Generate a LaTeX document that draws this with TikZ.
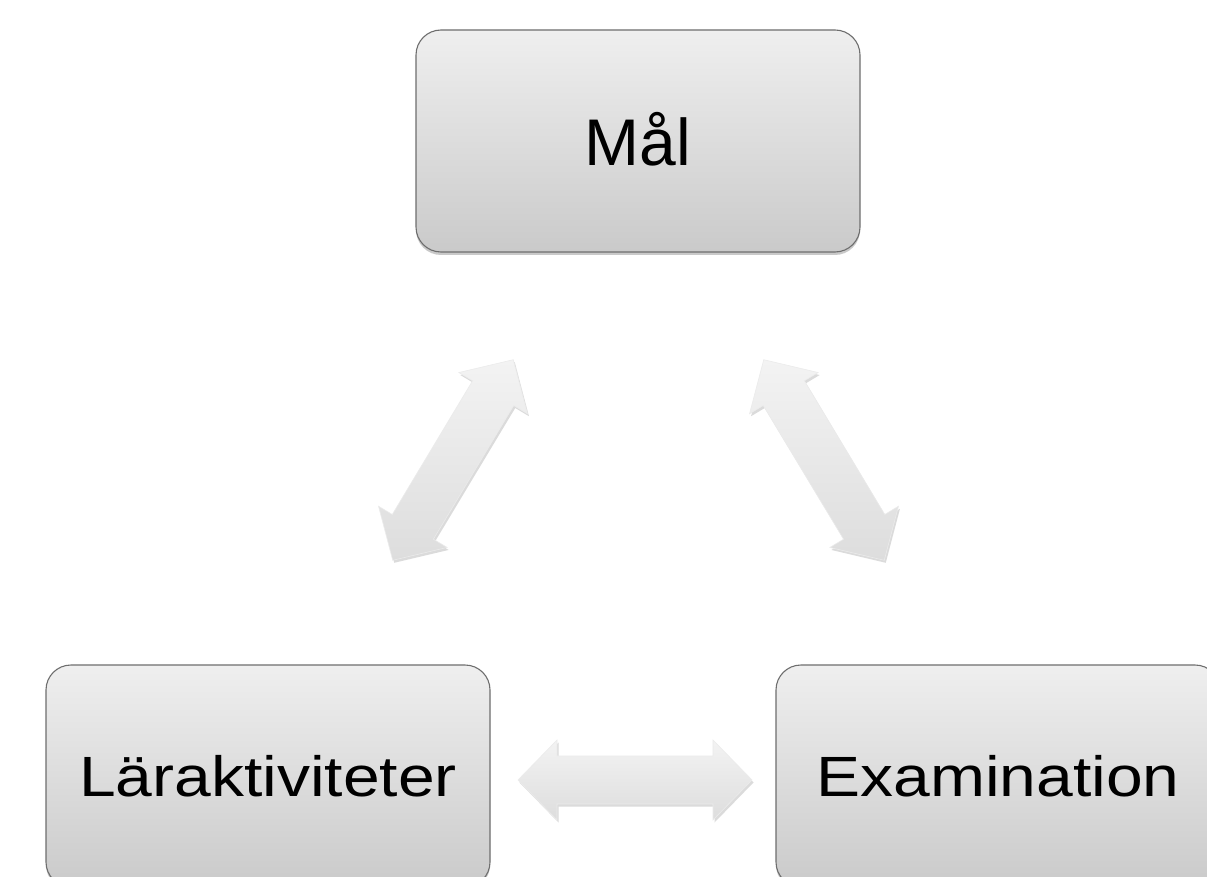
\documentclass[tikz,border=0pt]{standalone}
\usepackage{fontspec}
\setmainfont{Liberation Sans}
\usetikzlibrary{shadows}
\definecolor{boxtop}{HTML}{EFEFEF}
\definecolor{boxbot}{HTML}{CACACA}
\definecolor{boxline}{HTML}{6E6E6E}
\definecolor{arrtop}{HTML}{F3F3F3}
\definecolor{arrbot}{HTML}{DDDDDD}
\tikzset{
  box/.style={draw=boxline, line width=1.1pt, rounded corners=25pt,
    top color=boxtop, bottom color=boxbot,
    minimum width=444pt, minimum height=222pt, inner sep=0pt,
    drop shadow={opacity=0.35, shadow xshift=0pt, shadow yshift=-3pt, fill=black!60}},
  toplabel/.style={font=\fontsize{66}{70}\selectfont},
  lowlabel/.style={font=\fontsize{66}{70}\selectfont},
  arrowbody/.style={top color=arrtop, bottom color=arrbot, draw=black!8, line width=0.6pt,
    drop shadow={opacity=0.25, shadow xshift=1.5pt, shadow yshift=-2.5pt, fill=black!55}},
  dblarrow/.pic={
    \path[arrowbody] (-117,0) -- (-78,40) -- (-78,24) -- (78,24) -- (78,40)
      -- (117,0) -- (78,-40) -- (78,-24) -- (-78,-24) -- (-78,-40) -- cycle;
  }
}
\begin{document}
\begin{tikzpicture}[x=1pt,y=-1pt]
  \useasboundingbox (0,0) rectangle (1207,877);
  \fill[white] (0,0) rectangle (1207,877);
  \begin{scope}
    \clip (0,0) rectangle (1207,877);
    \node[box, toplabel] (mal) at (638,141) {\raisebox{4pt}{Mål}};
    \node[box, lowlabel] (lar) at (268,776) {\scalebox{1}[0.86]{Läraktiviteter}};
    \node[box, lowlabel] (exa) at (998,776) {\scalebox{1}[0.86]{Examination}};
  \end{scope}
  \coordinate (aL) at (453,460);
  \coordinate (aR) at (824,460);
  \coordinate (aB) at (635,780);
  \pic[rotate=59] at (aL) {dblarrow};
  \pic[rotate=-59] at (aR) {dblarrow};
  \pic at (aB) {dblarrow};
\end{tikzpicture}
\end{document}
